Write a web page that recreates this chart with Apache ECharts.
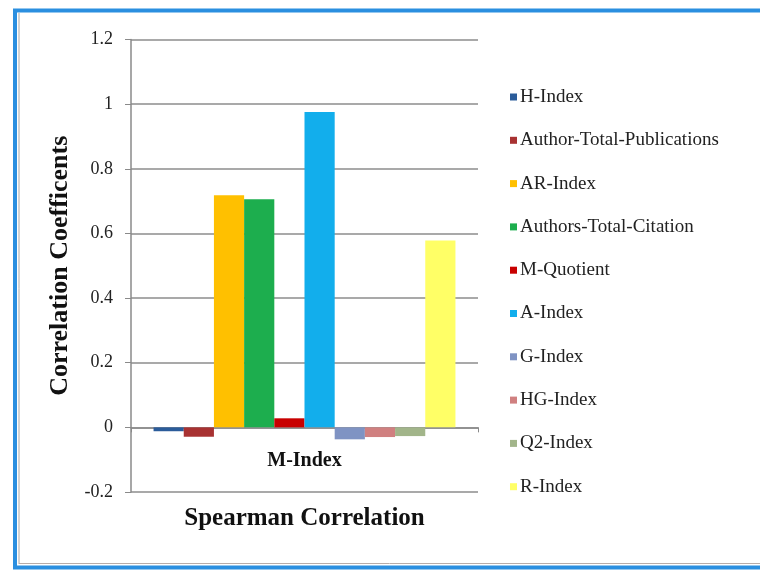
<!DOCTYPE html>
<html>
<head>
<meta charset="utf-8">
<script src="https://cdn.jsdelivr.net/npm/echarts@6/dist/echarts.min.js"></script>
<style>
html,body{margin:0;padding:0;background:#fff;}
#chart{width:760px;height:570px;}
</style>
</head>
<body>
<div id="chart"></div>
<script>
var categories = ['M-Index'];
var seriesNames = ['H-Index','Author-Total-Publications','AR-Index','Authors-Total-Citation','M-Quotient','A-Index','G-Index','HG-Index','Q2-Index','R-Index'];
var seriesValues = [-0.012, -0.029, 0.718, 0.706, 0.028, 0.976, -0.037, -0.030, -0.027, 0.578];
var seriesColors = ['#2B5C9A','#A83232','#FFC000','#1DAE4E','#C80000','#12AEEC','#7F93C3','#D08080','#A2B58A','#FFFF66'];
var yTicks = {min: -0.2, max: 1.2, interval: 0.2};

var serif = '"Liberation Serif","DejaVu Serif",serif';
var series = seriesNames.map(function(n, i){
  return {
    name: n, type: 'bar', data: [seriesValues[i]],
    barGap: '0%', barCategoryGap: '13%',
    itemStyle: {color: seriesColors[i]}
  };
});

var chart = echarts.init(document.getElementById('chart'), null, {renderer:'canvas'});
chart.setOption({
  backgroundColor: '#fff',
  animation: false,
  graphic: [
    {type:'rect', shape:{x:15, y:10.5, width:800, height:557}, style:{fill:'none', stroke:'#2B8FE0', lineWidth:4}, silent:true, z:-1},
    {type:'line', shape:{x1:19, y1:13, x2:19, y2:564}, style:{stroke:'#a8a8a8', lineWidth:1}, silent:true, z:-1},
    {type:'line', shape:{x1:19, y1:563.5, x2:760, y2:563.5}, style:{stroke:'#b8aca8', lineWidth:1}, silent:true, z:-1}
  ],
  grid: {left:131, right:282, top:39.5, bottom:78, containLabel:false, outerBoundsMode:'none'},
  legend: {
    orient:'vertical', left:505, top:82,
    icon:'rect', itemWidth:7, itemHeight:7, itemGap:23.3,
    textStyle:{fontFamily:serif, fontSize:19, color:'#222', lineHeight:20, padding:[0,0,0,-2]},
    data: seriesNames
  },
  xAxis: {
    type:'category', data:categories,
    axisLine:{onZero:true, lineStyle:{color:'#8a8a8a', width:1.5}},
    axisTick:{show:true, length:5, lineStyle:{color:'#8a8a8a'}},
    axisLabel:{fontFamily:serif, fontSize:20, fontWeight:'bold', color:'#111', margin:-41},
    name:'Spearman Correlation', nameLocation:'middle', nameGap:14,
    nameTextStyle:{fontFamily:serif, fontSize:25, fontWeight:'bold', color:'#111'}
  },
  yAxis: {
    type:'value', min:yTicks.min, max:yTicks.max, interval:yTicks.interval,
    axisLine:{show:true, lineStyle:{color:'#8a8a8a', width:1.5}},
    axisTick:{show:true, length:6, lineStyle:{color:'#8a8a8a'}},
    splitLine:{show:true, lineStyle:{color:'#8c8c8c', width:1.5}},
    axisLabel:{fontFamily:serif, fontSize:18, color:'#222', margin:18,
      formatter:function(v){return String(Math.round(v*10)/10);}},
    name:'Correlation Coefficents', nameLocation:'middle', nameGap:58,
    nameTextStyle:{fontFamily:serif, fontSize:26, fontWeight:'bold', color:'#111'}
  },
  series: series
});
</script>
</body>
</html>
